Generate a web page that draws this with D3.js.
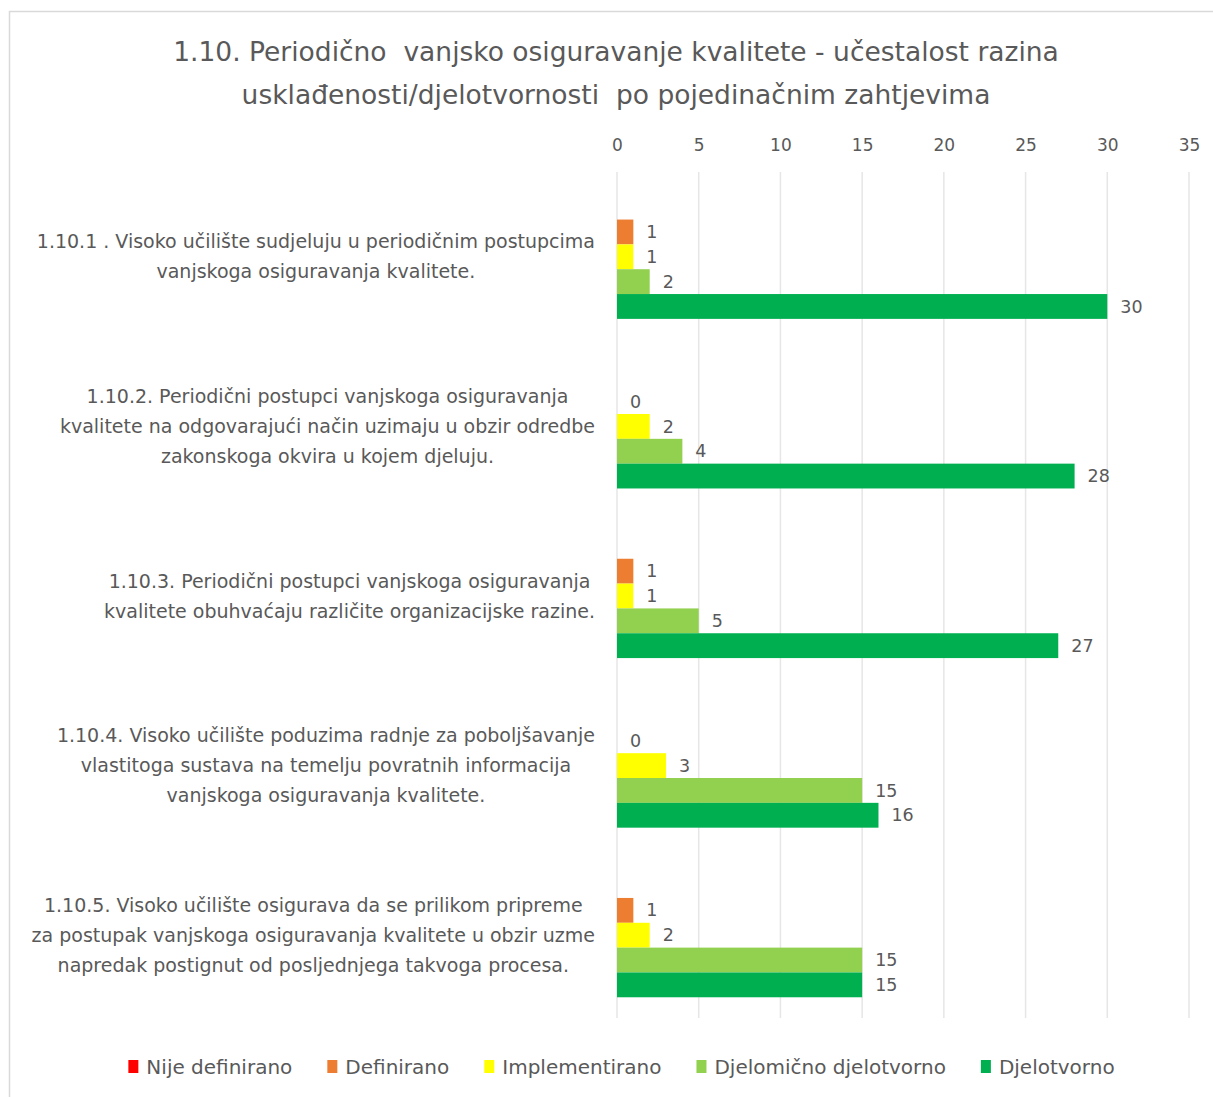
<!DOCTYPE html>
<html><head><meta charset="utf-8">
<script src="https://cdn.jsdelivr.net/npm/d3@7/dist/d3.min.js"></script>
<style>
body{margin:0;background:#fff}
text{font-family:"DejaVu Sans","Liberation Sans",Arial,sans-serif;fill:#595959}
</style>
</head><body>
<svg id="chart" width="1213" height="1097"></svg>
<script>
// ---------- data ----------
const titleLines = [
  "1.10. Periodično  vanjsko osiguravanje kvalitete - učestalost razina",
  "usklađenosti/djelotvornosti  po pojedinačnim zahtjevima"
];
const categories = ["1.10.1", "1.10.2", "1.10.3", "1.10.4", "1.10.5"];
const categoryLabels = [
  ["1.10.1 . Visoko učilište sudjeluju u periodičnim postupcima", "vanjskoga osiguravanja kvalitete."],
  ["1.10.2. Periodični postupci vanjskoga osiguravanja", "kvalitete na odgovarajući način uzimaju u obzir odredbe", "zakonskoga okvira u kojem djeluju."],
  ["1.10.3. Periodični postupci vanjskoga osiguravanja", "kvalitete obuhvaćaju različite organizacijske razine."],
  ["1.10.4. Visoko učilište poduzima radnje za poboljšavanje", "vlastitoga sustava na temelju povratnih informacija", "vanjskoga osiguravanja kvalitete."],
  ["1.10.5. Visoko učilište osigurava da se prilikom pripreme", "za postupak vanjskoga osiguravanja kvalitete u obzir uzme", "napredak postignut od posljednjega takvoga procesa."]
];
const seriesNames = ["Nije definirano", "Definirano", "Implementirano", "Djelomično djelotvorno", "Djelotvorno"];
const seriesColors = ["#FF0000", "#ED7D31", "#FFFF00", "#92D050", "#00B050"];
const nijeDefinirano = [null, null, null, null, null];
const definirano = [1, 0, 1, 0, 1];
const implementirano = [1, 2, 1, 3, 2];
const djelomicnoDjelotvorno = [2, 4, 5, 15, 15];
const djelotvorno = [30, 28, 27, 16, 15];
const xTicks = [0, 5, 10, 15, 20, 25, 30, 35];

const seriesValues = [nijeDefinirano, definirano, implementirano, djelomicnoDjelotvorno, djelotvorno];

// ---------- layout ----------
const svg = d3.select("#chart");
const W = 1213, H = 1097;
const plot = {left: 617, right: 1189, top: 172, bottom: 1020};

svg.append("rect").attr("x", 9.5).attr("y", 11.5).attr("width", W + 20).attr("height", H + 20)
  .attr("fill", "none").attr("stroke", "#d9d9d9").attr("stroke-width", 1.5);

// title
svg.append("g").selectAll("text").data(titleLines).join("text")
  .attr("x", 616).attr("y", (d, i) => 61 + i * 43)
  .attr("text-anchor", "middle").attr("font-size", 26.5)
  .attr("xml:space", "preserve").style("white-space", "pre")
  .text(d => d);

const x = d3.scaleLinear().domain([0, 35]).range([plot.left, plot.right]);
const y0 = d3.scaleBand().domain(categories).range([plot.top, plot.bottom])
  .paddingInner(0.268).paddingOuter(0.134);
const y1 = d3.scaleBand().domain(seriesNames).range([0, y0.bandwidth()]);

// gridlines
svg.append("g").selectAll("line").data(xTicks).join("line")
  .attr("x1", d => x(d)).attr("x2", d => x(d))
  .attr("y1", plot.top).attr("y2", plot.bottom - 2)
  .attr("stroke", "#e6e6e6").attr("stroke-width", 1.5);

// top axis
const axis = svg.append("g").attr("transform", "translate(0,151)")
  .call(d3.axisTop(x).tickValues(xTicks).tickSize(0).tickPadding(0));
axis.select(".domain").remove();
axis.selectAll("text").attr("font-size", 17).attr("fill", "#595959")
  .style("font-family", '"DejaVu Sans","Liberation Sans",Arial,sans-serif');

// bars
const rows = [];
categories.forEach((c, ci) => {
  seriesNames.forEach((s, si) => {
    const v = seriesValues[si][ci];
    if (v !== null && v !== undefined) rows.push({c, s, si, v});
  });
});
const barG = svg.append("g");
barG.selectAll("rect").data(rows).join("rect")
  .attr("x", x(0))
  .attr("y", d => y0(d.c) + y1(d.s))
  .attr("width", d => x(d.v) - x(0))
  .attr("height", y1.bandwidth())
  .attr("fill", d => seriesColors[d.si]);

// value labels
barG.selectAll("text").data(rows).join("text")
  .attr("x", d => x(d.v) + 13)
  .attr("y", d => y0(d.c) + y1(d.s) + y1.bandwidth() / 2)
  .attr("dy", "0.35em")
  .attr("font-size", 17.5)
  .text(d => d.v);

// category labels: block right-aligned at 595, lines centered within block
const catG = svg.append("g");
categories.forEach((c, ci) => {
  const lines = categoryLabels[ci];
  const g = catG.append("g");
  const texts = g.selectAll("text").data(lines).join("text")
    .attr("font-size", 19).attr("text-anchor", "middle").text(d => d);
  let maxW = 0;
  texts.each(function () { maxW = Math.max(maxW, this.getComputedTextLength()); });
  const cx = 595 - maxW / 2;
  const cy = y0(c) + y0.bandwidth() / 2;
  const lh = 30;
  texts.attr("x", cx)
    .attr("y", (d, i) => cy + (i - (lines.length - 1) / 2) * lh)
    .attr("dy", "0.35em");
});

// legend
const legG = svg.append("g");
const items = seriesNames.map((s, i) => {
  const g = legG.append("g");
  g.append("rect").attr("width", 10).attr("height", 13).attr("y", -7).attr("fill", seriesColors[i]);
  const t = g.append("text").attr("x", 18).attr("dy", "0.35em").attr("font-size", 20).text(s);
  return {g, w: 18 + t.node().getComputedTextLength()};
});
const gap = 35;
const total = d3.sum(items, d => d.w) + gap * (items.length - 1);
let cur = 621.5 - total / 2;
items.forEach(it => { it.g.attr("transform", `translate(${cur},1067)`); cur += it.w + gap; });
</script>
</body></html>
